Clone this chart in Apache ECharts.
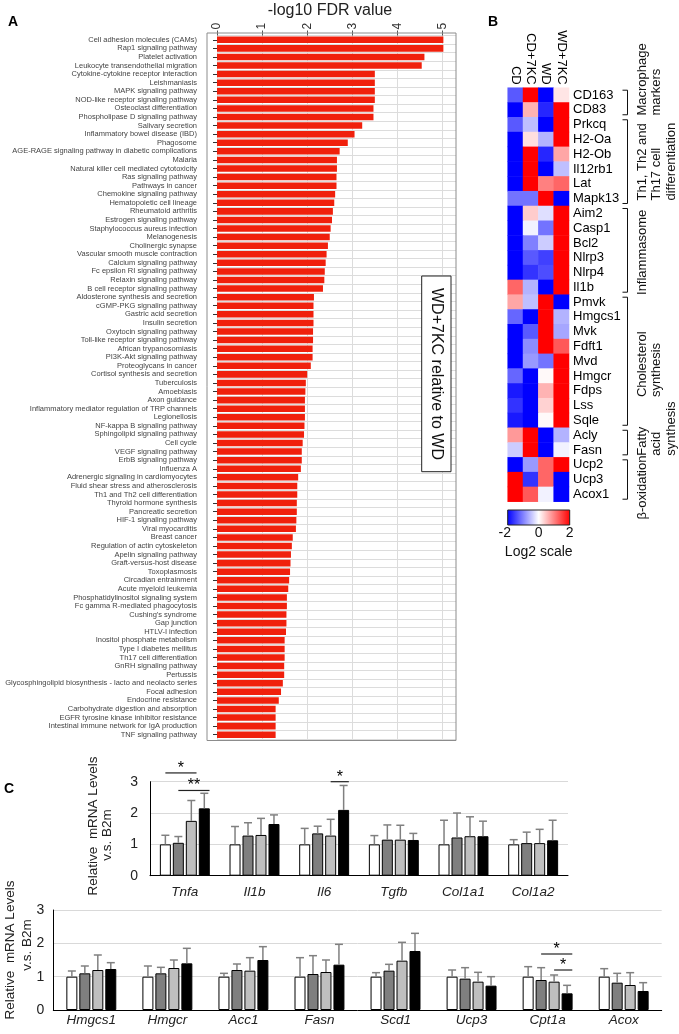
<!DOCTYPE html>
<html><head><meta charset="utf-8">
<script src="https://cdn.jsdelivr.net/npm/echarts@6/dist/echarts.min.js"></script>
<style>html,body{margin:0;padding:0;background:#fff}#c{width:679px;height:1034px}</style>
</head><body><div id="c"></div>
<script>
// ---------- Panel A data ----------
const pathways = [
'Cell adhesion molecules (CAMs)','Rap1 signaling pathway','Platelet activation','Leukocyte transendothelial migration',
'Cytokine-cytokine receptor interaction','Leishmaniasis','MAPK signaling pathway','NOD-like receptor signaling pathway',
'Osteoclast differentiation','Phospholipase D signaling pathway','Salivary secretion','Inflammatory bowel disease (IBD)',
'Phagosome','AGE-RAGE signaling pathway in diabetic complications','Malaria','Natural killer cell mediated cytotoxicity',
'Ras signaling pathway','Pathways in cancer','Chemokine signaling pathway','Hematopoietic cell lineage',
'Rheumatoid arthritis','Estrogen signaling pathway','Staphylococcus aureus infection','Melanogenesis',
'Cholinergic synapse','Vascular smooth muscle contraction','Calcium signaling pathway','Fc epsilon RI signaling pathway',
'Relaxin signaling pathway','B cell receptor signaling pathway','Aldosterone synthesis and secretion','cGMP-PKG signaling pathway',
'Gastric acid secretion','Insulin secretion','Oxytocin signaling pathway','Toll-like receptor signaling pathway',
'African trypanosomiasis','PI3K-Akt signaling pathway','Proteoglycans in cancer','Cortisol synthesis and secretion',
'Tuberculosis','Amoebiasis','Axon guidance','Inflammatory mediator regulation of TRP channels',
'Legionellosis','NF-kappa B signaling pathway','Sphingolipid signaling pathway','Cell cycle',
'VEGF signaling pathway','ErbB signaling pathway','Influenza A','Adrenergic signaling in cardiomyocytes',
'Fluid shear stress and atherosclerosis','Th1 and Th2 cell differentiation','Thyroid hormone synthesis','Pancreatic secretion',
'HIF-1 signaling pathway','Viral myocarditis','Breast cancer','Regulation of actin cytoskeleton',
'Apelin signaling pathway','Graft-versus-host disease','Toxoplasmosis','Circadian entrainment',
'Acute myeloid leukemia','Phosphatidylinositol signaling system','Fc gamma R-mediated phagocytosis',"Cushing's syndrome",
'Gap junction','HTLV-I infection','Inositol phosphate metabolism','Type I diabetes mellitus',
'Th17 cell differentiation','GnRH signaling pathway','Pertussis','Glycosphingolipid biosynthesis - lacto and neolacto series',
'Focal adhesion','Endocrine resistance','Carbohydrate digestion and absorption','EGFR tyrosine kinase inhibitor resistance',
'Intestinal immune network for IgA production','TNF signaling pathway'];
const fdrValues = [
5.02,5.02,4.6,4.54,3.5,3.5,3.5,3.5,3.47,3.47,3.22,3.05,2.9,2.72,2.66,2.66,2.65,2.65,2.62,2.6,
2.57,2.55,2.52,2.5,2.46,2.43,2.41,2.39,2.38,2.35,2.15,2.14,2.14,2.14,2.13,2.13,2.12,2.12,2.08,2.0,
1.97,1.96,1.95,1.95,1.95,1.94,1.93,1.9,1.88,1.88,1.86,1.8,1.78,1.78,1.77,1.77,1.76,1.75,1.68,1.66,
1.64,1.63,1.62,1.6,1.58,1.55,1.55,1.54,1.54,1.53,1.5,1.5,1.5,1.49,1.49,1.46,1.42,1.37,1.3,1.3,1.3,1.3];
const fdrTicks = [0,1,2,3,4,5];

// ---------- Panel B data ----------
const heatGroups = ['CD','CD+7KC','WD','WD+7KC'];
const heatGenes = ['CD163','CD83','Prkcq','H2-Oa','H2-Ob','Il12rb1','Lat','Mapk13','Aim2','Casp1','Bcl2','Nlrp3','Nlrp4','Il1b',
'Pmvk','Hmgcs1','Mvk','Fdft1','Mvd','Hmgcr','Fdps','Lss','Sqle','Acly','Fasn','Ucp2','Ucp3','Acox1'];
const heatValues = [
[-1.3, 2, -2, 0.2],[-2, 0.6, -1.7, 2],[-1.3, -0.5, -2, 2],[-2, 0.25, -0.6, 2],[-2, 2, -1.7, 0.7],
[-2, 2, -2, -0.5],[-2, 2, 1.0, 1.2],[-1.1, -1.1, 2, -2],[-2, 0.4, -0.25, 2],[-2, -0.1, -1.1, 2],
[-2, -1.0, -0.4, 2],[-2, -1.3, -1.5, 2],[-2, -1.6, -1.4, 2],[1.2, -0.6, -2, 2],[0.7, -0.5, 2, -2],
[-1.2, -2, 2, -0.6],[-2, -1.3, 2, -0.7],[-2, -0.9, 2, 1.3],[-2, -0.8, -1.1, 2],[-1.2, -2, 0.05, 2],
[-1.8, -2, 0.6, 2],[-1.6, -2, 0.35, 2],[-1.8, -2, 0.05, 2],[0.8, 2, -2, -0.6],[-0.4, 2, -2, -0.1],
[-2, -0.8, 1.2, 2],[2, -1.6, 1.2, -2],[2, 1.3, -0.1, -2]];
const heatSections = [[0,1,'Macrophage\nmarkers'],[2,7,'Th1, Th2 and\nTh17 cell\ndifferentiation'],[8,13,'Inflammasome'],
[14,22,'Cholesterol\nsynthesis'],[23,24,'Fatty\nacid\nsynthesis'],[25,27,'β-oxidation']];
const colorTicks = [-2,0,2];

// ---------- Panel C data ----------
const groupNames = ['CD','CD+7KC','WD','WD+7KC'];
const genesTop = ['Tnfa','Il1b','Il6','Tgfb','Col1a1','Col1a2'];
const topCD    = [1.0, 1.0, 1.0, 1.0, 1.0, 1.0];
const topCD7   = [1.05, 1.28, 1.35, 1.15, 1.22, 1.04];
const topWD    = [1.75, 1.3, 1.28, 1.15, 1.26, 1.04];
const topWD7   = [2.15, 1.65, 2.1, 1.14, 1.26, 1.13];
const topErrCD  = [0.29, 0.57, 0.51, 0.28, 0.77, 0.15];
const topErrCD7 = [0.2, 0.41, 0.23, 0.47, 0.78, 0.35];
const topErrWD  = [0.65, 0.53, 0.52, 0.46, 0.62, 0.44];
const topErrWD7 = [0.48, 0.29, 0.78, 0.21, 0.48, 0.64];
const topSig = [[0,0,2,3.28,'*'],[0,1,3,2.72,'**'],[2,2,3,3.0,'*']];

const genesBottom = ['Hmgcs1','Hmgcr','Acc1','Fasn','Scd1','Ucp3','Cpt1a','Acox'];
const botCD    = [1.0, 1.0, 1.0, 1.0, 1.0, 1.0, 1.0, 1.0];
const botCD7   = [1.1, 1.1, 1.2, 1.08, 1.18, 0.94, 0.9, 0.82];
const botWD    = [1.2, 1.26, 1.18, 1.14, 1.48, 0.85, 0.85, 0.75];
const botWD7   = [1.23, 1.4, 1.5, 1.36, 1.77, 0.73, 0.5, 0.57];
const botErrCD  = [0.17, 0.32, 0.1, 0.57, 0.12, 0.2, 0.3, 0.24];
const botErrCD7 = [0.22, 0.18, 0.18, 0.55, 0.19, 0.33, 0.37, 0.28];
const botErrWD  = [0.45, 0.24, 0.39, 0.36, 0.55, 0.28, 0.2, 0.37];
const botErrWD7 = [0.19, 0.45, 0.4, 0.61, 0.53, 0.27, 0.24, 0.25];
const botSig = [[6,1,3,1.68,'*'],[6,2,3,1.2,'*']];
const yTicksC = [0,1,2,3];

// ---------- layout / build ----------
const FONT = "'Liberation Sans', Arial, sans-serif";
const BAR_W = 11, BAR_GAP = 0.18, SLOT = BAR_W * (1 + BAR_GAP);
const barColors = ['#ffffff','#7f7f7f','#bfbfbf','#000000'];
// vertical nudge (px) of each section caption relative to its bracket centre
const sectionShift = [-23, 0, 2, 3, -14, 8];
const SEC_FONT = 13;
const measCtx = document.createElement('canvas').getContext('2d');
measCtx.font = SEC_FONT + "px 'Liberation Sans', Arial, sans-serif";
const textLen = s => Math.max(...s.split('\n').map(l => measCtx.measureText(l).width));

function barSeries(ax, means) {
  return means.map((m, i) => ({
    type: 'bar', name: groupNames[i], xAxisIndex: ax, yAxisIndex: ax, data: m,
    barWidth: BAR_W, barGap: (BAR_GAP*100)+'%',
    itemStyle: { color: barColors[i], borderColor: '#000', borderWidth: 1 }, silent: true, z: 2
  }));
}
function errSeries(ax, means, errs) {
  const data = [];
  means.forEach((m, g) => m.forEach((v, c) => data.push([c, g, v, errs[g][c]])));
  return {
    type: 'custom', xAxisIndex: ax, yAxisIndex: ax, data, encode: { x: 0, y: 2 }, z: 3, silent: true,
    renderItem(params, api) {
      const c = api.value(0), g = api.value(1), m = api.value(2), e = api.value(3);
      const p0 = api.coord([c, m]), p1 = api.coord([c, m + e]);
      const x = p0[0] + (g - 1.5) * SLOT;
      const st = { stroke: '#808080', lineWidth: 1.5 };
      return { type: 'group', children: [
        { type: 'line', shape: { x1: x, y1: p0[1], x2: x, y2: p1[1] }, style: st },
        { type: 'line', shape: { x1: x - 4, y1: p1[1], x2: x + 4, y2: p1[1] }, style: st }
      ]};
    }
  };
}
function sigSeries(ax, sig) {
  return {
    type: 'custom', xAxisIndex: ax, yAxisIndex: ax, data: sig.map(s => s.slice(0, 4)), encode: { x: 0, y: 3 },
    z: 4, silent: true, clip: false,
    renderItem(params, api) {
      const c = api.value(0), a = api.value(1), b = api.value(2), lv = api.value(3);
      const p = api.coord([c, lv]);
      const xa = p[0] + (a - 1.5) * SLOT, xb = p[0] + (b - 1.5) * SLOT + SLOT * 0.4;
      return { type: 'group', children: [
        { type: 'line', shape: { x1: xa, y1: p[1], x2: xb, y2: p[1] }, style: { stroke: '#222', lineWidth: 1.2 } },
        { type: 'text', x: (xa + xb) / 2, y: p[1] - 4.5, style: { text: sig[params.dataIndex][4], align: 'center',
          verticalAlign: 'middle', fontSize: 16, fill: '#000', fontFamily: FONT } }
      ]};
    }
  };
}

const heatData = [];
heatValues.forEach((row, r) => row.forEach((v, c) => heatData.push([c, r, v])));

const chart = echarts.init(document.getElementById('c'), null, { renderer: 'canvas' });

const CB = { x: 507.7, y: 510, w: 62, h: 15 };
const graphics = [
  { type: 'text', x: 8, y: 22, style: { text: 'A', fontSize: 14, fontWeight: 'bold', fill: '#000', verticalAlign: 'middle', fontFamily: FONT } },
  { type: 'text', x: 488, y: 22, style: { text: 'B', fontSize: 14, fontWeight: 'bold', fill: '#000', verticalAlign: 'middle', fontFamily: FONT } },
  { type: 'text', x: 4, y: 789, style: { text: 'C', fontSize: 14, fontWeight: 'bold', fill: '#000', verticalAlign: 'middle', fontFamily: FONT } },
  { type: 'text', x: 330, y: 11, style: { text: '-log10 FDR value', fontSize: 16, fill: '#222', align: 'center', verticalAlign: 'middle', fontFamily: FONT } },
  { type: 'rect', shape: { x: 207, y: 33, width: 249, height: 707.5 }, style: { fill: null, stroke: '#8c8c8c', lineWidth: 1 }, z: 10 },
  { type: 'rect', shape: { x: 421.7, y: 276, width: 29.3, height: 195.7 }, style: { fill: '#fff', stroke: '#222', lineWidth: 1 }, z: 11 },
  { type: 'text', x: 436.3, y: 374, rotation: -Math.PI / 2, z: 12, style: { text: 'WD+7KC relative to WD', fontSize: 16, fill: '#111', align: 'center', verticalAlign: 'middle', fontFamily: FONT } },
  { type: 'rect', shape: { x: CB.x, y: CB.y, width: CB.w, height: CB.h }, z: 10,
    style: { stroke: '#222', lineWidth: 1, fill: { type: 'linear', x: 0, y: 0, x2: 1, y2: 0,
      colorStops: [{ offset: 0, color: '#0000ff' }, { offset: 0.5, color: '#ffffff' }, { offset: 1, color: '#ff0000' }] } } },
  { type: 'text', x: CB.x + CB.w / 2, y: 552, style: { text: 'Log2 scale', fontSize: 14, fill: '#111', align: 'center', verticalAlign: 'middle', fontFamily: FONT } },
  { type: 'text', x: 93, y: 826, rotation: Math.PI / 2, style: { text: 'Relative  mRNA Levels', fontSize: 13.5, fill: '#222', align: 'center', verticalAlign: 'middle', fontFamily: FONT } },
  { type: 'text', x: 107.5, y: 835, rotation: Math.PI / 2, style: { text: 'v.s. B2m', fontSize: 13.5, fill: '#222', align: 'center', verticalAlign: 'middle', fontFamily: FONT } },
  { type: 'text', x: 10, y: 950, rotation: Math.PI / 2, style: { text: 'Relative  mRNA Levels', fontSize: 13.5, fill: '#222', align: 'center', verticalAlign: 'middle', fontFamily: FONT } },
  { type: 'text', x: 27, y: 945, rotation: Math.PI / 2, style: { text: 'v.s. B2m', fontSize: 13.5, fill: '#222', align: 'center', verticalAlign: 'middle', fontFamily: FONT } }
];
colorTicks.forEach(t => graphics.push({ type: 'text', x: CB.x + (t + 2) / 4 * CB.w - (t < 0 ? 3 : 0), y: 533,
  style: { text: String(t), fontSize: 14, fill: '#111', align: 'center', verticalAlign: 'middle', fontFamily: FONT } }));

const catAxisC = (ax, data, margin) => ({
  type: 'category', gridIndex: ax, data,
  axisLine: { lineStyle: { color: '#000', width: 1 } }, axisTick: { show: false },
  axisLabel: { fontStyle: 'italic', fontSize: 13.5, color: '#222', margin, fontFamily: FONT, interval: 0 }
});
const valAxisC = (ax, margin) => ({
  type: 'value', gridIndex: ax, min: 0, max: 3, interval: 1,
  axisLine: { show: true, lineStyle: { color: '#000', width: 1 } }, axisTick: { show: false },
  axisLabel: { fontSize: 14, color: '#222', margin, fontFamily: FONT, customValues: yTicksC },
  splitLine: { lineStyle: { color: '#d9d9d9', width: 1 } }
});

chart.setOption({
  backgroundColor: '#fff',
  animation: false,
  textStyle: { fontFamily: FONT },
  grid: [
    { left: 217, top: 35.5, width: 239, height: 703.5 },
    { left: 507.7, top: 87.7, width: 61.3, height: 414 },
    { left: 150, top: 781.7, width: 418, height: 94 },
    { left: 53.3, top: 910, width: 608.4, height: 100 }
  ],
  xAxis: [
    { type: 'value', gridIndex: 0, position: 'top', min: 0, max: 5.3, interval: 0.5,
      axisLine: { show: false },
      axisTick: { show: true, length: 5, customValues: fdrTicks, lineStyle: { color: '#555' } },
      axisLabel: { customValues: fdrTicks, rotate: -90, fontSize: 12, color: '#333', margin: 6 },
      splitLine: { show: true, lineStyle: { color: '#dcdcdc', width: 1 } } },
    { type: 'category', gridIndex: 1, position: 'top', data: heatGroups,
      axisLine: { show: false }, axisTick: { show: false },
      axisLabel: { rotate: 90, fontSize: 13, color: '#000', margin: 3, interval: 0, hideOverlap: false } },
    catAxisC(2, genesTop, 10),
    catAxisC(3, genesBottom, 3)
  ],
  yAxis: [
    { type: 'category', gridIndex: 0, data: pathways, inverse: true, offset: 10,
      axisLine: { show: false },
      axisTick: { show: true, alignWithLabel: true, length: 4, lineStyle: { color: '#333' } },
      axisLabel: { fontSize: 7.5, color: '#444', margin: 10, interval: 0 },
      splitLine: { show: true, interval: 0, lineStyle: { color: '#dcdcdc', width: 1 } } },
    { type: 'category', gridIndex: 1, data: heatGenes, inverse: true, position: 'right',
      axisLine: { show: false }, axisTick: { show: false },
      axisLabel: { fontSize: 13, color: '#000', margin: 4, interval: 0 } },
    valAxisC(2, 12),
    valAxisC(3, 9)
  ],
  visualMap: { type: 'continuous', show: false, min: -2, max: 2, seriesIndex: 1, dimension: 2,
    inRange: { color: ['#0000ff', '#ffffff', '#ff0000'] } },
  series: [
    { type: 'bar', xAxisIndex: 0, yAxisIndex: 0, data: fdrValues, barCategoryGap: '24%',
      itemStyle: { color: '#f0200c' }, silent: true, z: 3 },
    { type: 'heatmap', xAxisIndex: 1, yAxisIndex: 1, data: heatData, silent: true,
      itemStyle: { borderWidth: 0 } },
    { type: 'custom', xAxisIndex: 1, yAxisIndex: 1, clip: false, silent: true,
      data: heatSections.map(s => [3, s[0], s[1]]), encode: { x: 0, y: 1 },
      renderItem(params, api) {
        const s = api.value(1), e = api.value(2);
        const cell = api.size([1, 1]);
        const pT = api.coord([3, s]), pB = api.coord([3, e]);
        const xr = pT[0] + cell[0] / 2;
        const y1 = pT[1] - cell[1] / 2 + 2.5, y2 = pB[1] + cell[1] / 2 - 2.5;
        const bx = xr + 58.5;
        const txt = heatSections[params.dataIndex][2];
        const L = textLen(txt);
        const startY = (y1 + y2) / 2 + sectionShift[params.dataIndex] + L / 2;
        return { type: 'group', children: [
          { type: 'polyline', shape: { points: [[bx - 5, y1], [bx, y1], [bx, y2], [bx - 5, y2]] },
            style: { stroke: '#111', lineWidth: 1, fill: null } },
          { type: 'text', x: bx + 7.5, y: startY, rotation: Math.PI / 2,
            style: { text: txt, align: 'left', verticalAlign: 'top',
              fontSize: SEC_FONT, lineHeight: 14.5, fill: '#111', fontFamily: FONT } }
        ]};
      } },
    ...barSeries(2, [topCD, topCD7, topWD, topWD7]),
    errSeries(2, [topCD, topCD7, topWD, topWD7], [topErrCD, topErrCD7, topErrWD, topErrWD7]),
    sigSeries(2, topSig),
    ...barSeries(3, [botCD, botCD7, botWD, botWD7]),
    errSeries(3, [botCD, botCD7, botWD, botWD7], [botErrCD, botErrCD7, botErrWD, botErrWD7]),
    sigSeries(3, botSig)
  ],
  graphic: graphics
});
</script></body></html>
